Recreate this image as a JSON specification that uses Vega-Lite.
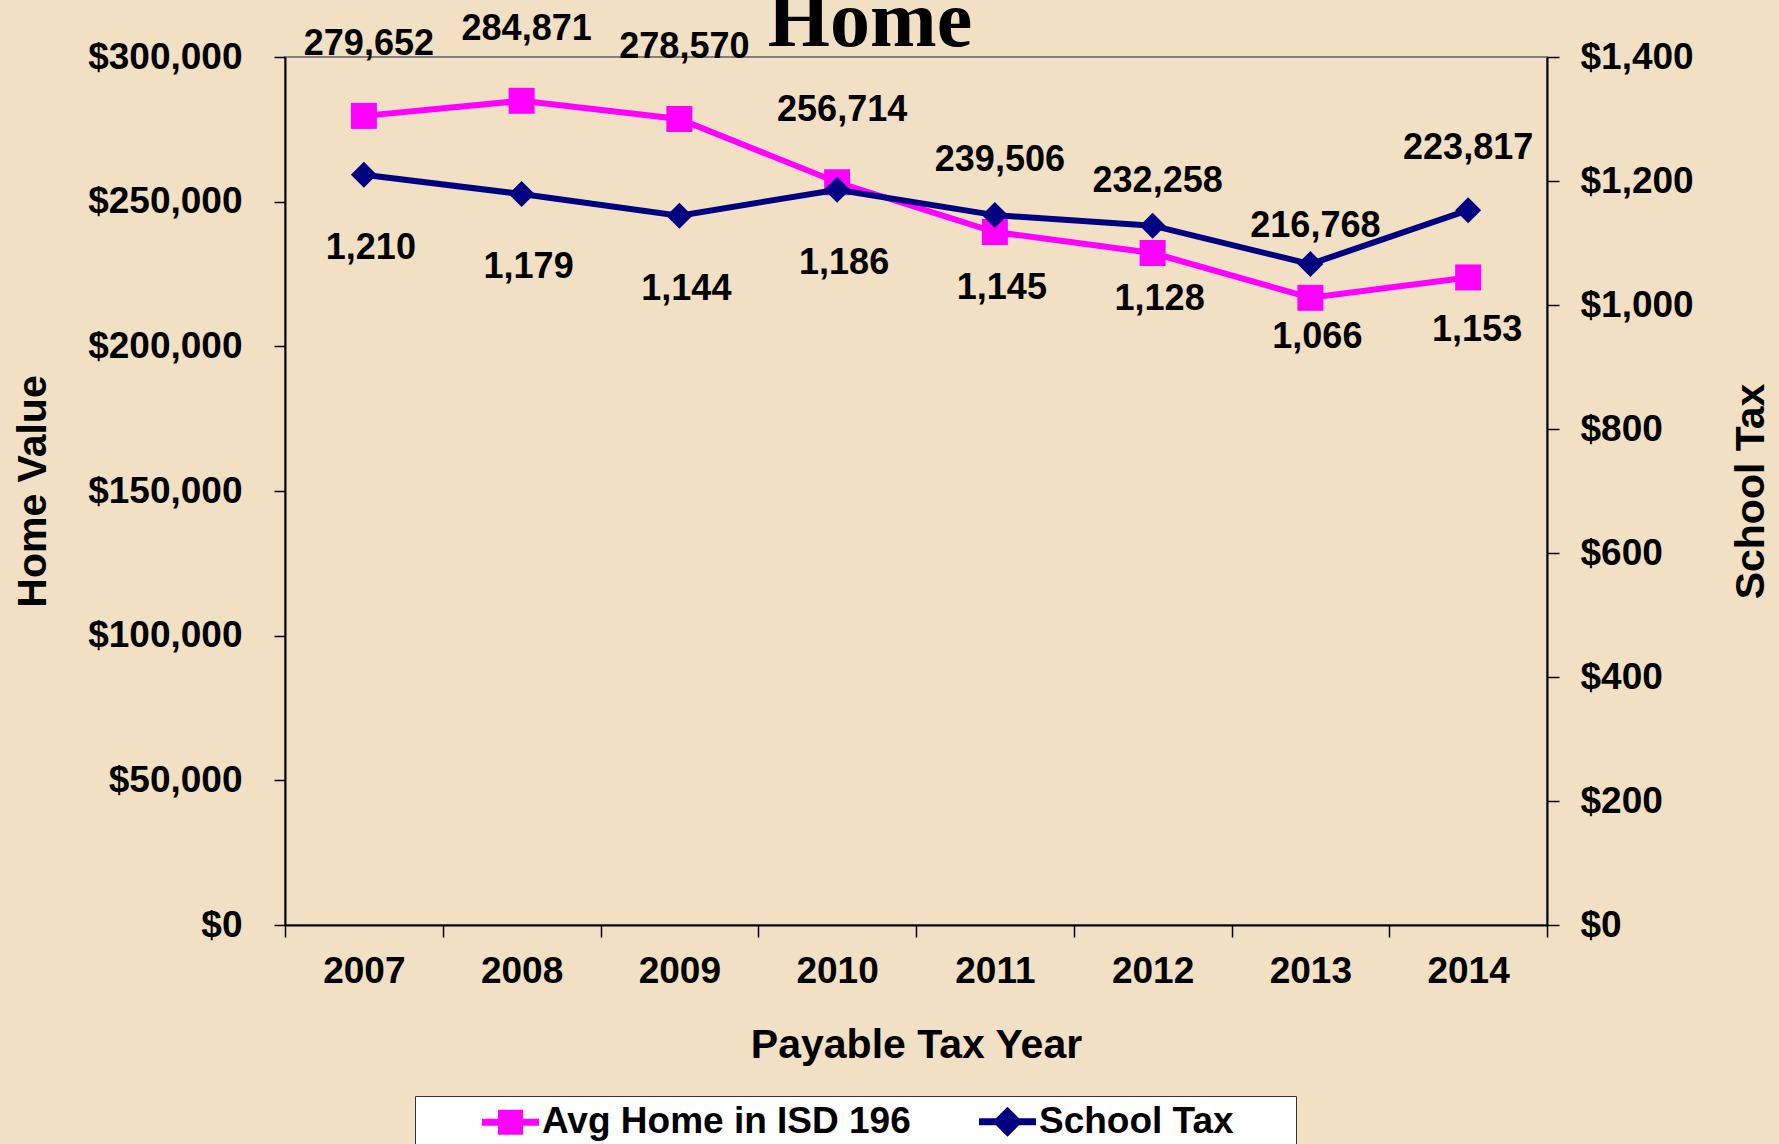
{
  "$schema": "https://vega.github.io/schema/vega-lite/v6.json",
  "width": 1262,
  "height": 868,
  "autosize": {"type": "none"},
  "padding": {"left": 285, "top": 57, "right": 232, "bottom": 219},
  "background": "#F2E0C5",
  "config": {
    "view": {"stroke": "#808080", "strokeWidth": 2},
    "font": "Liberation Sans"
  },
  "title": {
    "text": "Home",
    "font": "Liberation Serif",
    "fontSize": 80,
    "fontWeight": "bold",
    "color": "black",
    "anchor": "middle",
    "baseline": "alphabetic",
    "offset": -115,
    "dx": -46
  },
  "data": {
    "values": [
      {"year": "2007", "series": "Avg Home in ISD 196", "value": 279652},
      {"year": "2008", "series": "Avg Home in ISD 196", "value": 284871},
      {"year": "2009", "series": "Avg Home in ISD 196", "value": 278570},
      {"year": "2010", "series": "Avg Home in ISD 196", "value": 256714},
      {"year": "2011", "series": "Avg Home in ISD 196", "value": 239506},
      {"year": "2012", "series": "Avg Home in ISD 196", "value": 232258},
      {"year": "2013", "series": "Avg Home in ISD 196", "value": 216768},
      {"year": "2014", "series": "Avg Home in ISD 196", "value": 223817},
      {"year": "2007", "series": "School Tax", "value": 1210},
      {"year": "2008", "series": "School Tax", "value": 1179},
      {"year": "2009", "series": "School Tax", "value": 1144},
      {"year": "2010", "series": "School Tax", "value": 1186},
      {"year": "2011", "series": "School Tax", "value": 1145},
      {"year": "2012", "series": "School Tax", "value": 1128},
      {"year": "2013", "series": "School Tax", "value": 1066},
      {"year": "2014", "series": "School Tax", "value": 1153}
    ]
  },
  "encoding": {
    "x": {
      "field": "year",
      "type": "ordinal",
      "scale": {"paddingInner": 0, "paddingOuter": 0},
      "axis": {
        "title": "Payable Tax Year",
        "titleFont": "Liberation Sans",
        "titleFontSize": 41,
        "titleFontWeight": "bold",
        "titleColor": "black",
        "titlePadding": 36,
        "labelFont": "Liberation Sans",
        "labelFontSize": 37,
        "labelFontWeight": "bold",
        "labelColor": "black",
        "labelAngle": 0,
        "labelPadding": 16,
        "tickBand": "extent",
        "tickSize": 12,
        "tickColor": "black",
        "tickWidth": 1.5,
        "domainColor": "black",
        "domainWidth": 2
      }
    }
  },
  "layer": [
    {
      "transform": [{"filter": "datum.series === 'Avg Home in ISD 196'"}],
      "encoding": {
        "y": {
          "field": "value",
          "type": "quantitative",
          "scale": {"domain": [0, 300000], "nice": false, "zero": true},
          "axis": {
            "orient": "left",
            "title": "Home Value",
            "titleFont": "Liberation Sans",
            "titleFontSize": 41,
            "titleFontWeight": "bold",
            "titleColor": "black",
            "titlePadding": 33,
            "values": [0, 50000, 100000, 150000, 200000, 250000, 300000],
            "format": "$,.0f",
            "labelFont": "Liberation Sans",
            "labelFontSize": 37,
            "labelFontWeight": "bold",
            "labelColor": "black",
            "labelPadding": 32,
            "tickSize": 11,
            "tickColor": "black",
            "tickWidth": 1.5,
            "domainColor": "black",
            "domainWidth": 2,
            "grid": false
          }
        }
      },
      "layer": [
        {
          "mark": {"type": "line", "strokeWidth": 6},
          "encoding": {
            "color": {
              "field": "series",
              "type": "nominal",
              "scale": {"domain": ["Avg Home in ISD 196", "School Tax"], "range": ["#FF00FF", "#000080"]},
              "legend": {
                "orient": "none",
                "legendX": 130,
                "legendY": 1039,
                "direction": "horizontal",
                "title": "\u00a0",
                "titleOrient": "right",
                "titleFontSize": 37,
                "titlePadding": 55,
                "fillColor": "white",
                "strokeColor": "#333333",
                "padding": 7,
                "labelFont": "Liberation Sans",
                "labelFontSize": 37,
                "labelFontWeight": "bold",
                "labelColor": "black",
                "labelLimit": 0,
                "labelOffset": 13,
                "symbolSize": 900,
                "symbolStrokeWidth": 7,
                "symbolOffset": 70,
                "columnPadding": 8,
                "encode": {
                  "symbols": {
                    "update": {
                      "shape": {"signal": "datum.value === 'School Tax' ? 'M-1.9,0H1.9M0,-0.67L0.67,0L0,0.67L-0.67,0Z' : 'M-1.9,0H1.9M-0.6,-0.6H0.6V0.6H-0.6Z'"},
                      "fill": {"signal": "datum.value === 'School Tax' ? '#000080' : '#FF00FF'"},
                      "stroke": {"signal": "datum.value === 'School Tax' ? '#000080' : '#FF00FF'"},
                      "strokeWidth": {"value": 7},
                      "opacity": {"value": 1}
                    }
                  }
                }
              }
            }
          }
        },
        {
          "mark": {"type": "point", "shape": "square", "filled": true, "size": 676, "opacity": 1, "color": "#FF00FF"}
        },
        {
          "transform": [{"filter": "datum.year !== '2014'"}],
          "mark": {"type": "text", "dy": -72, "dx": 5, "fontSize": 36, "fontWeight": "bold", "font": "Liberation Sans", "color": "black", "baseline": "middle", "align": "center"},
          "encoding": {"text": {"field": "value", "type": "quantitative", "format": ","}}
        },
        {
          "transform": [{"filter": "datum.year === '2014'"}],
          "mark": {"type": "text", "dy": -129, "dx": 0, "fontSize": 36, "fontWeight": "bold", "font": "Liberation Sans", "color": "black", "baseline": "middle", "align": "center"},
          "encoding": {"text": {"field": "value", "type": "quantitative", "format": ","}}
        }
      ]
    },
    {
      "transform": [{"filter": "datum.series === 'School Tax'"}],
      "encoding": {
        "y": {
          "field": "value",
          "type": "quantitative",
          "scale": {"domain": [0, 1400], "nice": false, "zero": true},
          "axis": {
            "orient": "right",
            "title": "School Tax",
            "titleFont": "Liberation Sans",
            "titleFontSize": 41,
            "titleFontWeight": "bold",
            "titleColor": "black",
            "titleAngle": 270,
            "titleBaseline": "top",
            "titlePadding": 38,
            "values": [0, 200, 400, 600, 800, 1000, 1200, 1400],
            "format": "$,.0f",
            "labelFont": "Liberation Sans",
            "labelFontSize": 37,
            "labelFontWeight": "bold",
            "labelColor": "black",
            "labelPadding": 21,
            "tickSize": 12,
            "tickColor": "black",
            "tickWidth": 1.5,
            "domainColor": "black",
            "domainWidth": 2,
            "grid": false
          }
        }
      },
      "layer": [
        {
          "mark": {"type": "line", "strokeWidth": 6},
          "encoding": {"color": {"field": "series", "type": "nominal"}}
        },
        {
          "mark": {"type": "point", "shape": "diamond", "filled": true, "size": 676, "opacity": 1, "color": "#000080"}
        },
        {
          "transform": [{"filter": "datum.year !== '2014'"}],
          "mark": {"type": "text", "dy": 73, "dx": 7, "fontSize": 36, "fontWeight": "bold", "font": "Liberation Sans", "color": "black", "baseline": "middle", "align": "center"},
          "encoding": {"text": {"field": "value", "type": "quantitative", "format": ","}}
        },
        {
          "transform": [{"filter": "datum.year === '2014'"}],
          "mark": {"type": "text", "dy": 120, "dx": 9, "fontSize": 36, "fontWeight": "bold", "font": "Liberation Sans", "color": "black", "baseline": "middle", "align": "center"},
          "encoding": {"text": {"field": "value", "type": "quantitative", "format": ","}}
        }
      ]
    }
  ],
  "resolve": {"scale": {"y": "independent"}, "axis": {"y": "independent"}}
}
